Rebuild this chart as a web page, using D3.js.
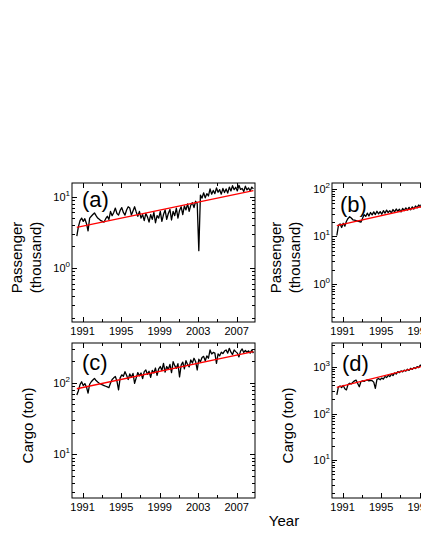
<!DOCTYPE html>
<html lang="en">
<head>
    <meta charset="UTF-8">
    <title>Passenger and cargo time series</title>
    <script src="https://cdn.jsdelivr.net/npm/d3@7"></script>
    <style>
        body {
            margin: 0;
            padding: 0;
            background-color: #fff;
            overflow: hidden;
        }

        svg {
            display: block;
            font-family: 'Liberation Sans', Arial, sans-serif;
        }
    </style>
</head>
<body>
<script>
    // samples every 2 months starting mid 1990
    const startYear = 1990.4;
    const step = 1 / 6;

    const passengerA = [
        2.8, 3.8, 4.6, 5.0, 4.5, 4.9,
        4.2, 3.3, 5.0, 5.3, 5.6, 5.9,
        5.4, 5.0, 4.8, 4.6, 4.5, 4.4,
        4.9, 5.3, 4.8, 6.2, 5.4, 6.0,
        6.9, 5.8, 5.5, 6.4, 7.0, 6.0,
        5.5, 6.5, 7.2, 6.9, 5.5, 6.3,
        7.2, 6.1, 5.3, 6.2, 5.0, 5.6,
        4.6, 5.8, 5.2, 4.4, 5.6, 4.8,
        6.0, 4.3, 5.4, 5.0, 6.2, 4.5,
        5.6, 6.5, 4.8, 5.8, 6.6, 4.7,
        6.2, 5.4, 6.9, 5.0, 6.4, 7.2,
        5.6, 7.4, 6.5, 7.9, 6.2, 7.6,
        8.2, 7.0, 8.6, 8.0, 1.75, 10.5,
        9.5, 11.3, 9.6, 11.0, 10.2, 12.8,
        10.8, 12.2, 11.0, 13.2, 11.5, 12.5,
        10.8, 13.0, 11.4, 12.8, 11.2, 13.6,
        12.0, 14.2, 12.5, 13.5, 12.0, 14.4,
        12.6, 13.0, 11.8, 14.0, 12.4, 13.2,
        12.0, 13.6, 12.8
    ];

    const passengerB = [
        10.5, 17.0, 18.5, 15.5, 19.0, 16.5,
        21.0, 24.0, 26.0, 24.5, 22.5, 22.0,
        21.5, 21.0, 20.5, 20.0, 24.0, 29.0,
        26.5, 31.0, 27.0, 32.0, 28.5, 33.0,
        29.0, 34.0, 30.0, 33.5, 29.5, 35.0,
        31.0, 36.0, 32.0, 35.0, 31.5, 37.0,
        33.0, 38.0, 34.0, 37.5, 33.0, 39.0,
        35.0, 40.0, 36.0, 41.0, 36.5, 42.0,
        38.0, 44.0, 40.0, 46.0, 42.0, 50.0,
        44, 52, 47, 55, 49, 57,
        51, 60, 54, 62, 56, 65,
        58, 67, 60, 70, 63, 72,
        66, 75, 62, 74, 45, 70,
        80, 72, 84, 76, 88, 80,
        92, 84, 95, 86, 98, 90,
        102, 93, 105, 96, 108, 99,
        112, 102, 114, 104, 116, 106,
        118, 108, 120, 110, 122, 112,
        124, 114, 118
    ];

    const cargoC = [
        68, 78, 95, 104, 92, 98,
        88, 72, 96, 104, 110, 116,
        108, 103, 99, 96, 94, 92,
        90, 88, 86, 100, 112, 118,
        123, 106, 80, 118, 130, 124,
        144, 128, 112, 134, 120, 136,
        99, 118, 140, 126, 138, 115,
        144, 152, 132, 146, 120, 150,
        138, 162, 128, 158, 170, 150,
        188, 142, 170, 155, 182, 140,
        199, 175, 160, 186, 122, 178,
        196, 158, 205, 182, 168, 210,
        190, 222, 200, 152, 215, 198,
        228, 236, 205, 240, 222, 290,
        255, 268, 262, 188, 255, 240,
        270, 258, 280, 290, 262, 306,
        270, 250, 290, 275, 262, 232,
        280, 300, 268, 285, 270, 282,
        262, 290, 262
    ];

    const cargoD = [
        250, 370, 390, 360, 400, 340,
        320, 420, 445, 430, 470, 500,
        520, 440, 375, 480, 500, 490,
        510, 525, 500, 515, 505, 470,
        345, 540, 560, 530, 575, 545,
        620, 590, 660, 620, 700, 650,
        740, 700, 790, 750, 820, 780,
        850, 810, 890, 840, 930, 880,
        960, 920, 1010, 960, 1090, 1020,
        1080, 1040, 1150, 1100, 1200, 1130,
        1260, 1190, 1300, 1220, 1150, 1340,
        1390, 1320, 1450, 1380, 1500, 1440,
        1580, 1510, 1650, 1560, 1620, 1720,
        1680, 1800, 1740, 1880, 1820, 1960,
        1900, 2040, 1960, 2120, 2060, 2200,
        2140, 2280, 2200, 2360, 2280, 2440,
        2360, 2520, 2440, 2600, 2520, 2680,
        2580, 2760, 2660, 2840, 2740, 2900,
        2800, 2960, 2880
    ];

    // exponential fits: value at first and last year
    const trendYears = [1990.4, 2008.73];
    const trendA = [3.7, 12.1];
    const trendB = [17, 115];
    const trendC = [83, 275];
    const trendD = [365, 3100];

    const xTickLabels = [1991, 1995, 1999, 2003, 2007];
    const xMinorTicks = [1993, 1997, 2001, 2005];
    const xDomain = [1989.9, 2008.9];

    const width = 421, height = 545;
    const panelW = 183;

    const panels = [
        {id: "a", left: 72, top: 183, h: 139, yDomain: [0.175, 15.5], values: passengerA, trend: trendA,
            title: ["Passenger", "(thousand)"], titleX: [17, 36], tag: [82, 207]},
        {id: "b", left: 332, top: 183, h: 139, yDomain: [0.158, 134], values: passengerB, trend: trendB,
            title: ["Passenger", "(thousand)"], titleX: [276, 295], tag: [340, 212]},
        {id: "c", left: 72, top: 343, h: 155, yDomain: [2.45, 363], values: cargoC, trend: trendC,
            title: ["Cargo (ton)"], titleX: [28], tag: [82, 370]},
        {id: "d", left: 332, top: 343, h: 155, yDomain: [1.55, 3240], values: cargoD, trend: trendD,
            title: ["Cargo (ton)"], titleX: [288], tag: [342, 371]}
    ];

    const svg = d3.select("body").append("svg")
        .attr("width", width)
        .attr("height", height);

    function logTicks(domain) {
        const ticks = [];
        const k0 = Math.floor(Math.log10(domain[0]));
        const k1 = Math.ceil(Math.log10(domain[1]));
        for (let k = k0; k <= k1; k++) {
            for (let m = 1; m <= 9; m++) {
                const v = m * Math.pow(10, k);
                if (v >= domain[0] && v <= domain[1]) ticks.push({v: v, major: m === 1, exp: k});
            }
        }
        return ticks;
    }

    function drawPanel(p) {
        const x = d3.scaleLinear().domain(xDomain).range([p.left, p.left + panelW]);
        const y = d3.scaleLog().domain(p.yDomain).range([p.top + p.h, p.top]);
        const bottom = p.top + p.h, right = p.left + panelW;

        const g = svg.append("g");

        svg.append("clipPath").attr("id", "clip-" + p.id)
            .append("rect")
            .attr("x", p.left).attr("y", p.top)
            .attr("width", panelW).attr("height", p.h);

        const series = p.values.map((v, i) => ({year: startYear + i * step, value: v}));
        const line = d3.line().x(d => x(d.year)).y(d => y(d.value));

        const plot = g.append("g").attr("clip-path", "url(#clip-" + p.id + ")");
        plot.append("path")
            .datum(series)
            .attr("fill", "none")
            .attr("stroke", "#000")
            .attr("stroke-width", 1.3)
            .attr("stroke-linejoin", "round")
            .attr("d", line);

        const fit = trendYears.map((t, i) => ({year: t, value: p.trend[i]}));
        plot.append("path")
            .datum(fit)
            .attr("fill", "none")
            .attr("stroke", "#ff0000")
            .attr("stroke-width", 1.3)
            .attr("d", line);

        // frame
        g.append("rect")
            .attr("x", p.left).attr("y", p.top)
            .attr("width", panelW).attr("height", p.h)
            .attr("fill", "none")
            .attr("stroke", "#000")
            .attr("stroke-width", 1);

        // x ticks, inward on bottom and top
        const xt = xTickLabels.map(t => ({t: t, major: true}))
            .concat(xMinorTicks.map(t => ({t: t, major: false})));
        xt.forEach(d => {
            const len = d.major ? 5 : 3;
            const px = Math.round(x(d.t)) + 0.5;
            g.append("line").attr("x1", px).attr("x2", px)
                .attr("y1", bottom).attr("y2", bottom - len)
                .attr("stroke", "#000");
            g.append("line").attr("x1", px).attr("x2", px)
                .attr("y1", p.top).attr("y2", p.top + len)
                .attr("stroke", "#000");
        });
        g.selectAll(".xlabel")
            .data(xTickLabels)
            .enter().append("text")
            .attr("x", d => x(d))
            .attr("y", bottom + 13)
            .attr("text-anchor", "middle")
            .attr("font-size", 11)
            .text(d => d);

        // y ticks, log decades with minor 2..9
        logTicks(p.yDomain).forEach(d => {
            const len = d.major ? 5 : 3;
            const py = Math.round(y(d.v)) + 0.5;
            g.append("line").attr("x1", p.left).attr("x2", p.left + len)
                .attr("y1", py).attr("y2", py).attr("stroke", "#000");
            g.append("line").attr("x1", right).attr("x2", right - len)
                .attr("y1", py).attr("y2", py).attr("stroke", "#000");
            if (d.major) {
                const label = g.append("text")
                    .attr("x", p.left - 2)
                    .attr("y", y(d.v) + 4)
                    .attr("text-anchor", "end")
                    .attr("font-size", 11);
                label.append("tspan").text("10");
                label.append("tspan").attr("dy", -5).attr("font-size", 8).text(d.exp);
            }
        });

        // panel tag
        g.append("text")
            .attr("x", p.tag[0]).attr("y", p.tag[1])
            .attr("font-size", 22)
            .text("(" + p.id + ")");

        // y axis title
        const cy = p.top + p.h / 2 + 5;
        p.title.forEach((t, i) => {
            g.append("text")
                .attr("transform", "translate(" + (p.titleX[i] + 5) + "," + cy + ") rotate(-90)")
                .attr("text-anchor", "middle")
                .attr("font-size", 15)
                .text(t);
        });
    }

    panels.forEach(drawPanel);

    svg.append("text")
        .attr("x", 284)
        .attr("y", 526)
        .attr("text-anchor", "middle")
        .attr("font-size", 15)
        .text("Year");
</script>
</body>
</html>
